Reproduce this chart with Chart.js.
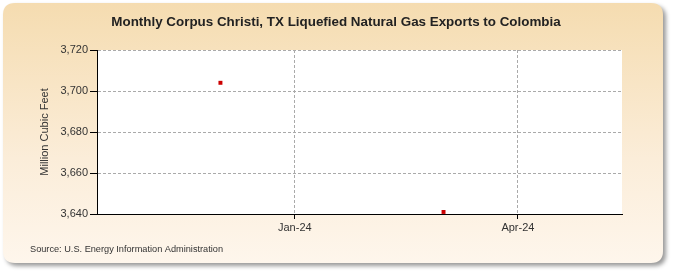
<!DOCTYPE html>
<html>
<head>
<meta charset="utf-8">
<script src="https://cdn.jsdelivr.net/npm/chart.js@4/dist/chart.umd.min.js"></script>
<style>
html,body{margin:0;padding:0;background:#fff;}
canvas{display:block;}
</style>
</head>
<body>
<canvas id="c" width="675" height="275"></canvas>
<script>
const titleText = 'Monthly Corpus Christi, TX Liquefied Natural Gas Exports to Colombia';
const yAxisLabel = 'Million Cubic Feet';
const sourceText = 'Source: U.S. Energy Information Administration';
const categories = ['Dec-23', 'Mar-24'];
const values = [3704, 3641];
const xTickLabels = ['Jan-24', 'Apr-24'];
const yTicks = [3640, 3660, 3680, 3700, 3720];

const MONTHS = ['Jan','Feb','Mar','Apr','May','Jun','Jul','Aug','Sep','Oct','Nov','Dec'];
function monthIndex(lbl) {
  const [m, y] = lbl.split('-');
  return (parseInt(y, 10) - 24) * 12 + MONTHS.indexOf(m);
}

const bgPlugin = {
  id: 'bg',
  beforeDraw(chart) {
    const ctx = chart.ctx;
    ctx.save();
    ctx.fillStyle = '#ffffff';
    ctx.fillRect(0, 0, 675, 275);
    const x = 3, y = 3, w = 660, h = 260, r = 12;
    ctx.shadowColor = 'rgba(0,0,0,0.4)';
    ctx.shadowBlur = 4;
    ctx.shadowOffsetX = 3;
    ctx.shadowOffsetY = 3;
    const g = ctx.createLinearGradient(0, y, 0, y + h);
    g.addColorStop(0, '#f5dcb0');
    g.addColorStop(0.6, '#fbedd9');
    g.addColorStop(1, '#fef6ec');
    ctx.fillStyle = g;
    ctx.beginPath();
    ctx.moveTo(x + r, y);
    ctx.lineTo(x + w - r, y);
    ctx.quadraticCurveTo(x + w, y, x + w, y + r);
    ctx.lineTo(x + w, y + h - r);
    ctx.quadraticCurveTo(x + w, y + h, x + w - r, y + h);
    ctx.lineTo(x + r, y + h);
    ctx.quadraticCurveTo(x, y + h, x, y + h - r);
    ctx.lineTo(x, y + r);
    ctx.quadraticCurveTo(x, y, x + r, y);
    ctx.closePath();
    ctx.fill();
    ctx.shadowColor = 'transparent';
    const a = chart.chartArea;
    ctx.fillStyle = '#ffffff';
    ctx.fillRect(a.left, a.top, a.right - a.left, a.bottom - a.top);
    // texts
    ctx.fillStyle = '#222';
    ctx.font = 'bold 13.4px "Liberation Sans", Arial, sans-serif';
    ctx.textAlign = 'center';
    ctx.textBaseline = 'middle';
    ctx.fillText(titleText, 336, 22);
    ctx.fillStyle = '#333';
    ctx.font = '11px "Liberation Sans", Arial, sans-serif';
    ctx.save();
    ctx.translate(45, (a.top + a.bottom) / 2);
    ctx.rotate(-Math.PI / 2);
    ctx.fillText(yAxisLabel, 0, 0);
    ctx.restore();
    ctx.textAlign = 'left';
    ctx.font = '9.2px "Liberation Sans", Arial, sans-serif';
    ctx.fillText(sourceText, 30, 249);
    ctx.restore();
  }
};

new Chart(document.getElementById('c'), {
  type: 'scatter',
  data: {
    datasets: [{
      data: categories.map((c, i) => ({ x: monthIndex(c), y: values[i] })),
      backgroundColor: '#cc0000',
      borderColor: '#cc0000',
      borderWidth: 0,
      pointStyle: 'rect',
      pointRadius: 2.8,
      pointHoverRadius: 2.8,
      showLine: false
    }]
  },
  options: {
    responsive: false,
    animation: false,
    devicePixelRatio: 1,
    layout: { padding: { left: 0, right: 53, top: 50, bottom: 0 } },
    plugins: { legend: { display: false }, tooltip: { enabled: false }, title: { display: false } },
    scales: {
      x: {
        type: 'linear',
        min: -2.66,
        max: 4.4,
        afterFit(s) { s.height = 61; },
        afterBuildTicks(s) { s.ticks = xTickLabels.map(l => ({ value: monthIndex(l) })); },
        ticks: {
          autoSkip: false,
          maxRotation: 0,
          padding: 2,
          color: '#333',
          font: { family: '"Liberation Sans", Arial, sans-serif', size: 11 },
          callback(v) { const i = xTickLabels.findIndex(l => monthIndex(l) === v); return i >= 0 ? xTickLabels[i] : ''; }
        },
        grid: { color: '#aaa', lineWidth: 1, tickLength: 5, tickColor: '#000', tickBorderDash: [] },
        border: { display: true, color: '#000', width: 1, dash: [3, 2] }
      },
      y: {
        min: 3640,
        max: 3720,
        afterFit(s) { s.width = 97; },
        afterBuildTicks(s) { s.ticks = yTicks.map(v => ({ value: v })); },
        ticks: {
          padding: 2,
          color: '#333',
          font: { family: '"Liberation Sans", Arial, sans-serif', size: 11 },
          callback(v) { return v.toLocaleString('en-US'); }
        },
        grid: { color: '#aaa', lineWidth: 1, tickLength: 7, tickColor: '#000', tickBorderDash: [] },
        border: { display: true, color: '#000', width: 1, dash: [3, 2] }
      }
    }
  },
  plugins: [bgPlugin]
});
</script>
</body>
</html>
